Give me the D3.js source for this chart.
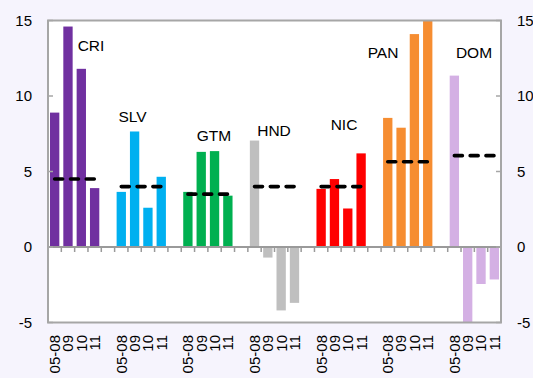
<!DOCTYPE html>
<html>
<head>
<meta charset="utf-8">
<script src="https://cdn.jsdelivr.net/npm/d3@7"></script>
<style>
  html, body { margin: 0; padding: 0; background: #f6f4fd; }
  svg { display: block; font-family: "Liberation Sans", Arial, sans-serif; }
</style>
</head>
<body>
<div id="chart"></div>
<script>
// ── DATA ───────────────────────────────────────────────────────
const countries = ["CRI", "SLV", "GTM", "HND", "NIC", "PAN", "DOM"];
const periods   = ["05-08", "09", "10", "11"];
const cri = [8.9, 14.6, 11.8, 3.9];
const slv = [3.65, 7.65, 2.6, 4.65];
const gtm = [3.65, 6.3, 6.35, 3.4];
const hnd = [7.05, -0.7, -4.2, -3.7];
const nic = [3.85, 4.5, 2.55, 6.2];
const pan = [8.55, 7.9, 14.1, 15.3];
const dom = [11.35, -5.3, -2.45, -2.15];
const means  = [4.5, 4.0, 3.5, 4.0, 4.0, 5.65, 6.05];
const colors = ["#7030a0", "#00b0f0", "#00b050", "#bfbfbf", "#ff0000", "#f68d31", "#d4b0e4"];
const yTicks = [15, 10, 5, 0, -5];

const values = [cri, slv, gtm, hnd, nic, pan, dom];

// ── LAYOUT ─────────────────────────────────────────────────────
const W = 533, H = 378;
const plot = { left: 48, right: 501, top: 20.5, bottom: 322.5 };

// label placement (px centre x, value for baseline)
const labelPos = [[91, 13.0], [132.5, 8.25], [214, 7.0], [274, 7.35], [344, 7.75], [383, 12.5], [474, 12.5]];

// category list: 4 periods per country, one empty slot between countries
const cats = [];
countries.forEach((c, i) => {
  periods.forEach(p => cats.push(c + "|" + p));
  if (i < countries.length - 1) cats.push("gap" + i);
});

const svg = d3.select("#chart").append("svg")
  .attr("width", W).attr("height", H);

const x = d3.scaleBand().domain(cats)
  .range([plot.left, plot.right])
  .paddingInner(0.3).paddingOuter(0.15);

const y = d3.scaleLinear().domain([-5, 15]).range([plot.bottom, plot.top]);

// plot background
svg.append("rect")
  .attr("x", plot.left).attr("y", plot.top)
  .attr("width", plot.right - plot.left).attr("height", plot.bottom - plot.top)
  .attr("fill", "#fff");

svg.append("clipPath").attr("id", "clip")
  .append("rect")
  .attr("x", plot.left).attr("y", plot.top)
  .attr("width", plot.right - plot.left).attr("height", plot.bottom - plot.top);

const g = svg.append("g").attr("clip-path", "url(#clip)");

// bars
const bars = [];
countries.forEach((c, i) => {
  periods.forEach((p, j) => bars.push({ key: c + "|" + p, v: values[i][j], color: colors[i] }));
});

g.selectAll(".bar").data(bars).join("rect")
  .attr("class", "bar")
  .attr("x", d => x(d.key))
  .attr("width", x.bandwidth())
  .attr("y", d => y(Math.max(0, d.v)))
  .attr("height", d => Math.abs(y(d.v) - y(0)))
  .attr("fill", d => d.color);

// zero axis with ticks at category boundaries
const step = x.step();
svg.append("line")
  .attr("x1", plot.left).attr("x2", plot.right)
  .attr("y1", y(0)).attr("y2", y(0))
  .attr("stroke", "#9a9a9a").attr("stroke-width", 2);

svg.selectAll(".xtick").data(d3.range(cats.length + 1)).join("line")
  .attr("class", "xtick")
  .attr("x1", i => plot.left + i * step).attr("x2", i => plot.left + i * step)
  .attr("y1", y(0)).attr("y2", y(0) + 5)
  .attr("stroke", "#9a9a9a").attr("stroke-width", 1.5);

// mean dashed lines
svg.selectAll(".mean").data(countries).join("line")
  .attr("class", "mean")
  .attr("x1", c => x(c + "|" + periods[0]) + x.bandwidth() / 2)
  .attr("x2", c => x(c + "|" + periods[3]) + x.bandwidth() / 2)
  .attr("y1", (c, i) => y(means[i])).attr("y2", (c, i) => y(means[i]))
  .attr("stroke", "#000").attr("stroke-width", 3.6)
  .attr("stroke-linecap", "round")
  .attr("stroke-dasharray", "8,7.8");

// plot border
svg.append("rect")
  .attr("x", plot.left).attr("y", plot.top)
  .attr("width", plot.right - plot.left).attr("height", plot.bottom - plot.top)
  .attr("fill", "none").attr("stroke", "#a6a6a6").attr("stroke-width", 2);

// y ticks (inside) and labels on both sides
svg.selectAll(".ytl").data(yTicks).join("line")
  .attr("x1", plot.left).attr("x2", plot.left + 5)
  .attr("y1", d => y(d)).attr("y2", d => y(d))
  .attr("stroke", "#a6a6a6").attr("stroke-width", 1.5);
svg.selectAll(".ytr").data(yTicks).join("line")
  .attr("x1", plot.right - 5).attr("x2", plot.right)
  .attr("y1", d => y(d)).attr("y2", d => y(d))
  .attr("stroke", "#a6a6a6").attr("stroke-width", 1.5);

svg.selectAll(".ylabL").data(yTicks).join("text")
  .attr("x", 32).attr("y", d => y(d)).attr("dy", "0.36em")
  .attr("text-anchor", "end").attr("font-size", 15).attr("fill", "#000")
  .text(d => d);
svg.selectAll(".ylabR").data(yTicks).join("text")
  .attr("x", 517).attr("y", d => y(d)).attr("dy", "0.36em")
  .attr("text-anchor", "start").attr("font-size", 15).attr("fill", "#000")
  .text(d => d);

// rotated category labels
svg.selectAll(".xlab").data(bars).join("text")
  .attr("transform", d => `translate(${x(d.key) + x.bandwidth() / 2},335) rotate(-90)`)
  .attr("dy", "0.36em")
  .attr("text-anchor", "end").attr("font-size", 15).attr("fill", "#000")
  .text(d => d.key.split("|")[1]);

// country labels
svg.selectAll(".clab").data(countries).join("text")
  .attr("x", (c, i) => labelPos[i][0])
  .attr("y", (c, i) => y(labelPos[i][1]))
  .attr("text-anchor", "middle").attr("font-size", 15.5).attr("fill", "#000")
  .text(c => c);
</script>
</body>
</html>
